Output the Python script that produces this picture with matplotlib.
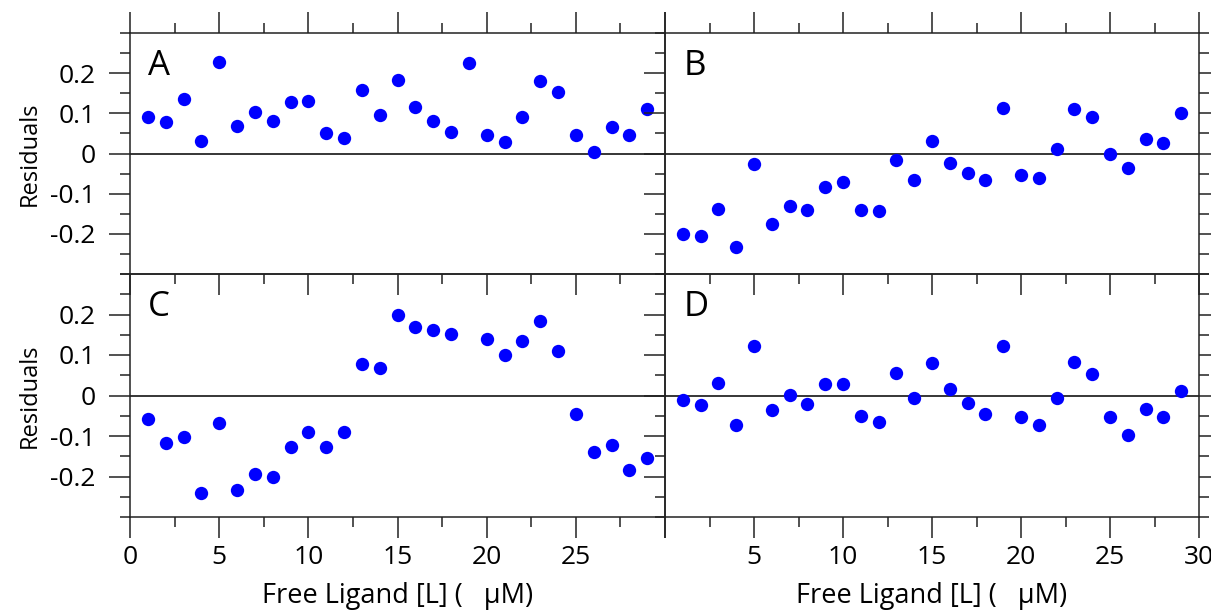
import numpy as np
import matplotlib
matplotlib.use("Agg")
import matplotlib.pyplot as plt
from matplotlib.ticker import MultipleLocator

plt.rcParams['font.family'] = ['Open Sans', 'DejaVu Sans']

# ---------------------------------------------------------------
# data: residuals, x = 1..29 uM
conc = list(range(1, 30))

res_a = [0.092, 0.079, 0.135, 0.031, 0.227, 0.068, 0.104, 0.082, 0.129, 0.131,
         0.052, 0.039, 0.158, 0.097, 0.183, 0.117, 0.080, 0.053, 0.226, 0.046,
         0.029, 0.091, 0.181, 0.154, 0.046, 0.003, 0.066, 0.046, 0.111]

res_b = [-0.200, -0.205, -0.139, -0.233, -0.027, -0.176, -0.130, -0.140, -0.083, -0.072,
         -0.141, -0.144, -0.015, -0.065, 0.030, -0.023, -0.048, -0.067, 0.113, -0.053,
         -0.060, 0.012, 0.110, 0.092, -0.002, -0.037, 0.037, 0.027, 0.100]

# point 19 of panel C is off scale in the original
res_c = [-0.058, -0.118, -0.103, -0.240, -0.067, -0.234, -0.195, -0.202, -0.128, -0.091,
         -0.126, -0.091, 0.077, 0.067, 0.199, 0.168, 0.162, 0.151, np.nan, 0.140,
         0.101, 0.134, 0.185, 0.110, -0.045, -0.140, -0.122, -0.185, -0.155]

res_d = [-0.011, -0.024, 0.032, -0.072, 0.123, -0.035, 0.002, -0.021, 0.028, 0.028,
         -0.051, -0.065, 0.056, -0.005, 0.081, 0.015, -0.018, -0.045, 0.123, -0.053,
         -0.072, -0.007, 0.082, 0.052, -0.052, -0.098, -0.033, -0.053, 0.010]

panel_letters = ['A', 'B', 'C', 'D']
y_ticks = [-0.2, -0.1, 0, 0.1, 0.2]
y_tick_labels = ['-0.2', '-0.1', '0', '0.1', '0.2']
x_ticks = [0, 5, 10, 15, 20, 25, 30]
x_label = "Free Ligand [L] (   \u00b5M)"
y_label = "Residuals"

# ---------------------------------------------------------------
W, H = 1211, 610
fig = plt.figure(figsize=(W / 100, H / 100), dpi=100)
fig.patch.set_facecolor('white')

# panel boxes in pixels (left, top, right, bottom)
boxes = [(130, 33, 665, 274), (665, 33, 1199, 274),
         (130, 274, 665, 517), (665, 274, 1199, 517)]
all_res = [res_a, res_b, res_c, res_d]

TICK_FS = 19
XLAB_FS = 19.5
YLAB_FS = 17
for i, (box, res) in enumerate(zip(boxes, all_res)):
    l, t, r, b = box
    ax = fig.add_axes([l / W, 1 - b / H, (r - l) / W, (b - t) / H])
    ax.patch.set_visible(False)
    top_row = i < 2
    left_col = i % 2 == 0

    ax.axhline(0, color='black', lw=1.1, zorder=1)
    ax.plot(conc, res, 'o', color='#0000ff', markersize=9.6, markeredgewidth=0, zorder=3)

    ax.set_xlim(0, 30)
    ax.set_ylim(-0.3, 0.3)
    ax.xaxis.set_minor_locator(MultipleLocator(2.5))
    ax.yaxis.set_minor_locator(MultipleLocator(0.05))
    ax.set_yticks(y_ticks)

    for s in ax.spines.values():
        s.set_linewidth(1.1)
        s.set_color('#222222')

    ax.tick_params(which='major', direction='out', length=15, width=1.1, color='#222222',
                   labelsize=TICK_FS)
    ax.tick_params(which='minor', direction='out', length=7.5, width=1.1, color='#222222')

    # y axis
    if left_col:
        ax.set_yticklabels(y_tick_labels)
        ax.tick_params(axis='y', which='both', left=True, right=False, labelleft=True, pad=10)
    else:
        ax.tick_params(axis='y', which='both', left=True, right=True, labelleft=False)

    # x axis
    ax.set_xticks(x_ticks)
    if top_row:
        ax.tick_params(axis='x', which='both', top=True, bottom=True,
                       labelbottom=False, labeltop=False)
    else:
        if left_col:
            ax.set_xticklabels([str(v) if v < 30 else '' for v in x_ticks])
        else:
            ax.set_xticklabels([str(v) if v > 0 else '' for v in x_ticks])
        ax.tick_params(axis='x', which='both', top=False, bottom=True, pad=5)
        fig.text((l + r) / 2 / W, 1 - 596 / H, x_label, fontsize=XLAB_FS,
                 ha='center', va='center')

    if left_col:
        fig.text(30 / W, 1 - (t + b) / 2 / H, y_label, fontsize=YLAB_FS, rotation=90,
                 ha='center', va='center')

    ax.text(0.034, 0.826, panel_letters[i], transform=ax.transAxes,
            fontsize=25, ha='left', va='baseline')

fig.savefig('out.png', dpi=100)
